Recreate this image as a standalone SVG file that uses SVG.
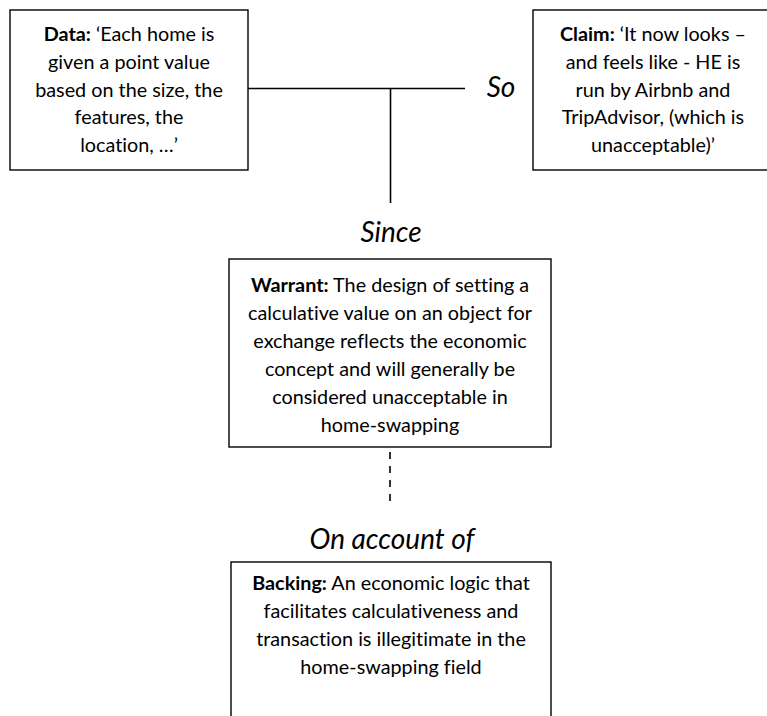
<svg xmlns="http://www.w3.org/2000/svg" width="767" height="716" viewBox="0 0 767 716">
  <style>
    .box { fill: #ffffff; stroke: #000000; stroke-width: 1.4; }
    .txt { font-family: Lato, "Liberation Sans", sans-serif; font-size: 19.8px; fill: #000000; text-anchor: middle; font-variant-ligatures: none; }
    .lbl { font-family: Lato, "Liberation Sans", sans-serif; font-size: 28px; font-style: italic; fill: #000000; text-anchor: middle; font-variant-ligatures: none; }
    .b { font-weight: bold; }
    .ln { stroke: #000000; stroke-width: 1.6; fill: none; }
    .dash { stroke-dasharray: 7 7; }
  </style>
  <rect width="767" height="716" fill="#ffffff"/>

  <!-- connectors -->
  <g id="connectors">
    <line class="ln" x1="248" y1="88.5" x2="465" y2="88.5"/>
    <line class="ln" x1="390.5" y1="88.5" x2="390.5" y2="203"/>
    <line class="ln dash" x1="390" y1="452" x2="390" y2="502"/>
    <text class="lbl" x="501" y="97">So</text>
    <text class="lbl" x="391" y="242">Since</text>
    <text class="lbl" x="392" y="549">On account of</text>
  </g>

  <!-- Data -->
  <g id="data">
    <rect class="box" x="10" y="10" width="238" height="160"/>
    <text class="txt" x="129" y="41"><tspan class="b">Data:</tspan> ‘Each home is</text>
    <text class="txt" x="129" y="69">given a point value</text>
    <text class="txt" x="129" y="96.5">based on the size, the</text>
    <text class="txt" x="129" y="124">features, the</text>
    <text class="txt" x="129" y="151.5">location, …’</text>
  </g>

  <!-- Claim -->
  <g id="claim">
    <rect class="box" x="533" y="10" width="240" height="160"/>
    <text class="txt" x="653" y="41"><tspan class="b">Claim:</tspan> ‘It now looks –</text>
    <text class="txt" x="653" y="69">and feels like - HE is</text>
    <text class="txt" x="653" y="96.5">run by Airbnb and</text>
    <text class="txt" x="653" y="124">TripAdvisor, (which is</text>
    <text class="txt" x="653" y="151.5">unacceptable)’</text>
  </g>

  <!-- Warrant -->
  <g id="warrant">
    <rect class="box" x="229" y="259" width="322" height="188"/>
    <text class="txt" x="390" y="291.5"><tspan class="b">Warrant:</tspan> The design of setting a</text>
    <text class="txt" x="390" y="319.5">calculative value on an object for</text>
    <text class="txt" x="390" y="347.5">exchange reflects the economic</text>
    <text class="txt" x="390" y="375.5">concept and will generally be</text>
    <text class="txt" x="390" y="403.5">considered unacceptable in</text>
    <text class="txt" x="390" y="431.5">home-swapping</text>
  </g>

  <!-- Backing -->
  <g id="backing">
    <rect class="box" x="231" y="562" width="320" height="170"/>
    <text class="txt" x="391" y="590"><tspan class="b">Backing:</tspan> An economic logic that</text>
    <text class="txt" x="391" y="618">facilitates calculativeness and</text>
    <text class="txt" x="391" y="646">transaction is illegitimate in the</text>
    <text class="txt" x="391" y="673.5">home-swapping field</text>
  </g>
</svg>
